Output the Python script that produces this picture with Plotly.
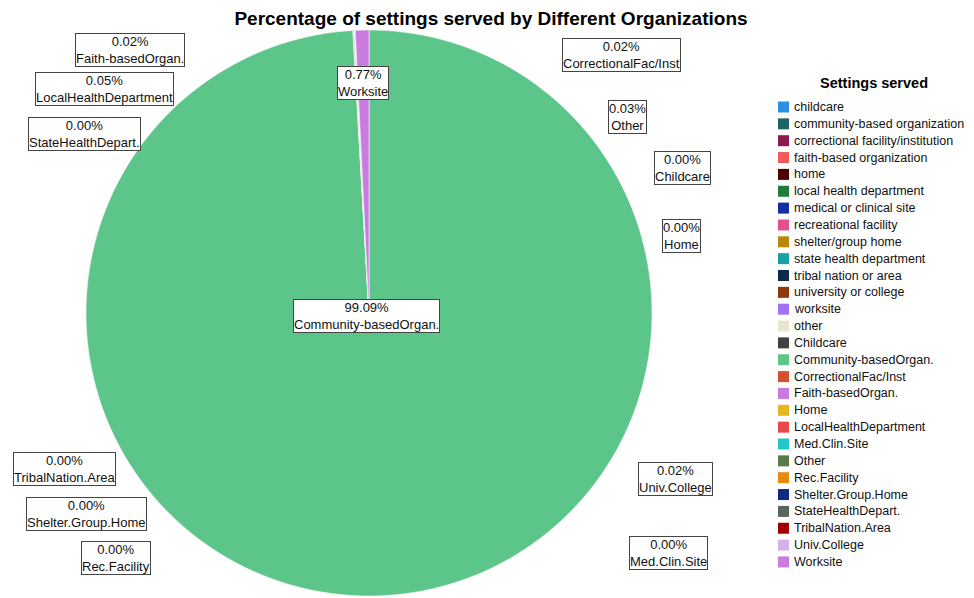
import plotly.graph_objects as go

# ---- data ----
categories = [
    "childcare", "community-based organization", "correctional facility/institution",
    "faith-based organization", "home", "local health department",
    "medical or clinical site", "recreational facility", "shelter/group home",
    "state health department", "tribal nation or area", "university or college",
    "worksite", "other",
    "Childcare", "Community-basedOrgan.", "CorrectionalFac/Inst", "Faith-basedOrgan.",
    "Home", "LocalHealthDepartment", "Med.Clin.Site", "Other", "Rec.Facility",
    "Shelter.Group.Home", "StateHealthDepart.", "TribalNation.Area", "Univ.College",
    "Worksite",
]
percentages = [
    0, 0, 0, 0, 0, 0, 0, 0, 0, 0, 0, 0, 0, 0,
    0.00, 99.09, 0.02, 0.02, 0.00, 0.05, 0.00, 0.03, 0.00, 0.00, 0.00, 0.00, 0.02, 0.77,
]
colors = [
    "#2b8fe3", "#1d6464", "#8c1a4e", "#f45a5a", "#4d0000", "#1f7d3c", "#1430a0",
    "#e4508c", "#bb880e", "#1aa0a0", "#0b2a4c", "#8c3a0a", "#a372f2", "#e9e4d0",
    "#404040", "#5cc68a", "#d2522f", "#c87ae0", "#e6b820", "#e84848", "#22c8c8",
    "#5a7a48", "#e88a12", "#102a80", "#5a655a", "#a00000", "#d2b2e8", "#c97be0",
]

# label box positions (page-pixel centres) for the labelled slices
label_pos = {
    "Faith-basedOrgan.": (130, 50),
    "LocalHealthDepartment": (104, 89),
    "StateHealthDepart.": (84, 134),
    "Worksite": (363, 83),
    "CorrectionalFac/Inst": (621, 55),
    "Other": (627, 117),
    "Childcare": (682, 168),
    "Home": (681, 236),
    "Community-basedOrgan.": (366, 316),
    "TribalNation.Area": (64, 469),
    "Shelter.Group.Home": (86, 514),
    "Rec.Facility": (116, 558),
    "Univ.College": (675, 479),
    "Med.Clin.Site": (668, 553),
}

OFF = 8  # default page body margin
W, H = 974 - OFF, 598 - OFF
FONT = "Liberation Sans, Arial, sans-serif"


def px(x):
    return (x - OFF) / W


def py(y):
    return 1 - (y - OFF) / H


fig = go.Figure()
fig.add_trace(go.Pie(
    labels=categories,
    values=percentages,
    marker=dict(colors=colors, line=dict(color="#f4f4f4", width=0.6)),
    sort=False,
    direction="clockwise",
    rotation=0,
    textinfo="none",
    hoverinfo="label+percent",
    showlegend=False,
    domain=dict(x=[px(369 - 283), px(369 + 283)], y=[max(0, py(596)), py(30)]),
))

annotations = []
for lab, val in zip(categories, percentages):
    if lab in label_pos:
        cx, cy = label_pos[lab]
        annotations.append(dict(
            x=px(cx), y=py(cy), xref="paper", yref="paper",
            xanchor="center", yanchor="middle", showarrow=False,
            text=f"{val:.2f}%<br>{lab}",
            font=dict(family=FONT, size=13, color="#111"),
            bgcolor="white", bordercolor="#444", borderwidth=1, borderpad=0,
        ))

# legend (built from categories/colors)
shapes = []
leg_y0, leg_step = 107, 16.85
annotations.append(dict(
    x=px(874), y=py(83), xref="paper", yref="paper", xanchor="center", yanchor="middle",
    showarrow=False, text="<b>Settings served</b>",
    font=dict(family=FONT, size=14.5, color="#000"),
))
for i, (lab, col) in enumerate(zip(categories, colors)):
    yc = leg_y0 + i * leg_step
    shapes.append(dict(
        type="rect", xref="paper", yref="paper",
        x0=px(778), x1=px(789), y0=py(yc + 5.5), y1=py(yc - 5.5),
        fillcolor=col, line=dict(width=0),
    ))
    annotations.append(dict(
        x=px(792), y=py(yc), xref="paper", yref="paper", xanchor="left", yanchor="middle",
        showarrow=False, text=lab, font=dict(family=FONT, size=12.5, color="#111"),
    ))

fig.update_layout(
    width=W, height=H,
    margin=dict(l=0, r=0, t=0, b=0),
    paper_bgcolor="white", plot_bgcolor="white",
    title=dict(
        text="<b>Percentage of settings served by Different Organizations</b>",
        x=px(491), y=py(18), xanchor="center", yanchor="middle",
        font=dict(family=FONT, size=19, color="#000"),
    ),
    annotations=annotations,
    shapes=shapes,
)

fig.write_html("out.html")
